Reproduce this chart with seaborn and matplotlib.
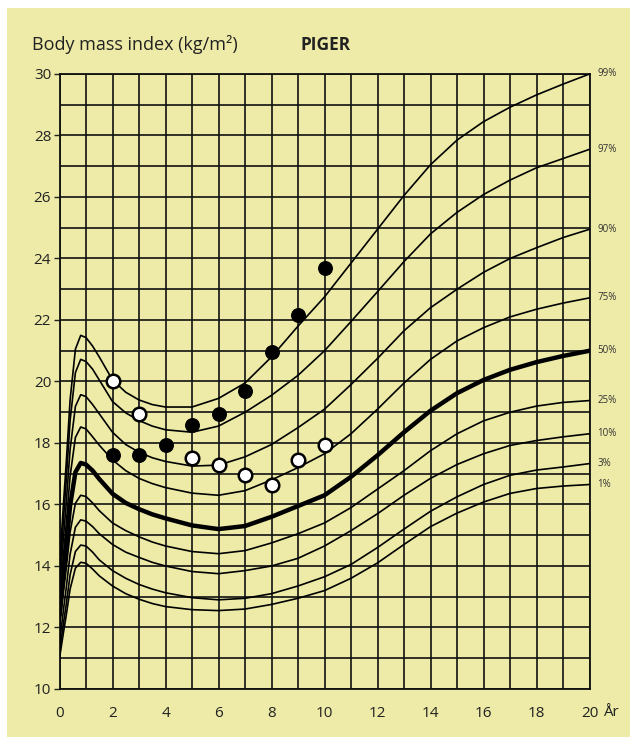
import numpy as np
import pandas as pd
import matplotlib
matplotlib.use('Agg')
import matplotlib.pyplot as plt
from matplotlib.patches import Rectangle
import seaborn as sns

sns.set_style('white')
plt.rcParams['font.family'] = ['Open Sans', 'DejaVu Sans']

ages = [0, 0.05, 0.15, 0.25, 0.4, 0.6, 0.8, 1.0, 1.25, 1.5, 2, 2.5, 3, 3.5, 4, 5, 6,
        7, 8, 9, 10, 11, 12, 13, 14, 15, 16, 17, 18, 19, 20]

p99 = [14.0, 14.68, 16.03, 17.3, 19.4, 21.05, 21.5, 21.43, 21.15, 20.8, 20.05, 19.65, 19.4,
       19.25, 19.17, 19.17, 19.45,
       19.95, 20.8, 21.8, 22.75, 23.85, 24.95, 26.05, 27.05, 27.85, 28.45, 28.92, 29.32, 29.67, 30.0]
p97 = [13.6, 14.24, 15.52, 16.73, 18.73, 20.29, 20.72, 20.65, 20.4, 20.05, 19.35, 18.98, 18.73,
       18.55, 18.43, 18.35, 18.55,
       19.0, 19.55, 20.2, 21.0, 21.95, 22.92, 23.9, 24.8, 25.5, 26.08, 26.55, 26.95, 27.25, 27.55]
p90 = [13.2, 13.77, 14.92, 16.0, 17.79, 19.19, 19.57, 19.51, 19.25, 18.95, 18.35, 17.95, 17.7,
       17.52, 17.4, 17.25, 17.28,
       17.55, 17.95, 18.5, 19.1, 19.9, 20.75, 21.65, 22.4, 23.0, 23.55, 24.0, 24.35, 24.68, 24.95]
p75 = [12.8, 13.31, 14.34, 15.32, 16.92, 18.18, 18.52, 18.46, 18.2, 17.93, 17.45, 17.1, 16.85,
       16.68, 16.55, 16.37, 16.3,
       16.45, 16.8, 17.2, 17.65, 18.3, 19.1, 19.95, 20.72, 21.32, 21.75, 22.1, 22.35, 22.55, 22.72]
p50 = [12.4, 12.85, 13.74, 14.58, 15.96, 17.05, 17.35, 17.3, 17.1, 16.83, 16.35, 16.05, 15.85,
       15.68, 15.55, 15.32, 15.2,
       15.3, 15.6, 15.95, 16.3, 16.9, 17.6, 18.35, 19.05, 19.62, 20.05, 20.38, 20.63, 20.83, 21.0]
p25 = [12.0, 12.39, 13.16, 13.89, 15.1, 16.04, 16.3, 16.26, 16.05, 15.8, 15.4, 15.15, 14.95,
       14.78, 14.65, 14.47, 14.4,
       14.5, 14.75, 15.05, 15.4, 15.9, 16.5, 17.1, 17.75, 18.3, 18.72, 19.0, 19.2, 19.32, 19.38]
p10 = [11.5, 11.86, 12.58, 13.26, 14.38, 15.26, 15.5, 15.46, 15.28, 15.05, 14.7, 14.45, 14.28,
       14.12, 14.0, 13.82, 13.75,
       13.85, 14.0, 14.25, 14.65, 15.15, 15.7, 16.3, 16.85, 17.3, 17.65, 17.92, 18.08, 18.2, 18.3]
p3 = [11.2, 11.51, 12.14, 12.73, 13.71, 14.47, 14.68, 14.65, 14.45, 14.2, 13.85, 13.6, 13.4,
      13.25, 13.13, 12.97, 12.9,
      12.95, 13.1, 13.35, 13.65, 14.05, 14.6, 15.2, 15.78, 16.25, 16.65, 16.95, 17.12, 17.22, 17.33]
p1 = [11.0, 11.28, 11.84, 12.37, 13.25, 13.93, 14.12, 14.09, 13.9, 13.68, 13.35, 13.1, 12.92,
      12.78, 12.68, 12.58, 12.55,
      12.6, 12.75, 12.95, 13.2, 13.6, 14.1, 14.7, 15.28, 15.72, 16.08, 16.36, 16.52, 16.6, 16.65]

pct_labels = ['99%', '97%', '90%', '75%', '50%', '25%', '10%', '3%', '1%']
curves = [p99, p97, p90, p75, p50, p25, p10, p3, p1]

# the child's measurements
dot_ages = [2, 3, 4, 5, 6, 7, 8, 9, 10]
black_bmi = [17.6, 17.6, 17.95, 18.6, 18.95, 19.7, 20.95, 22.15, 23.7]
white_ages = [2, 3, 5, 6, 7, 8, 9, 10]
white_bmi = [20.0, 18.95, 17.5, 17.3, 16.95, 16.65, 17.45, 17.95]

rows = []
for lab, vals in zip(pct_labels, curves):
    for a, v in zip(ages, vals):
        rows.append((a, v, lab))
df = pd.DataFrame(rows, columns=['age', 'bmi', 'pct'])

W, H = 630, 744
fig = plt.figure(figsize=(W / 100, H / 100), dpi=100)
fig.patch.set_facecolor('white')
fig.patches.append(Rectangle((7 / W, 1 - 737 / H), 1 - 7 / W, (737 - 8) / H,
                             transform=fig.transFigure, facecolor='#EDEBA7',
                             edgecolor='none', zorder=-5))

ax = fig.add_axes([59.5 / W, 1 - 689 / H, 530 / W, 615 / H])
ax.set_zorder(1)
ax.set_facecolor('#EDEBA7')

for lab in pct_labels:
    sub = df[df['pct'] == lab]
    sns.lineplot(data=sub, x='age', y='bmi', ax=ax, color='black',
                 lw=3.2 if lab == '50%' else 1.2, estimator=None, zorder=3,
                 solid_joinstyle='round')

sns.scatterplot(x=dot_ages, y=black_bmi, ax=ax, color='black', s=95,
                edgecolor='black', linewidth=1, zorder=5)
sns.scatterplot(x=white_ages, y=white_bmi, ax=ax, color='white', s=95,
                edgecolor='black', linewidth=1.8, zorder=5)

ax.set_xlim(0, 20)
ax.set_ylim(10, 30)
ax.set_xticks(range(0, 21, 2))
ax.set_xticks(range(0, 21), minor=True)
ax.set_yticks(range(10, 31, 2))
ax.set_yticks(range(10, 31), minor=True)
ax.grid(which='both', color='#111111', lw=1.2)
ax.set_axisbelow(True)
for sp in ax.spines.values():
    sp.set_color('#111111')
    sp.set_linewidth(1.3)
ax.tick_params(axis='x', which='both', length=0, pad=12, labelsize=11, colors='#222222')
ax.tick_params(axis='y', which='major', length=4, width=1, pad=2, labelsize=11,
               colors='#222222', left=True)
ax.tick_params(axis='y', which='minor', length=0)
ax.set_xlabel('')
ax.set_ylabel('')

for lab, vals in zip(pct_labels, curves):
    ax.text(20.3, vals[-1], lab, fontsize=7, va='center', ha='left', color='#333333',
            clip_on=False)

fig.text(32 / W, 1 - 45 / H, 'Body mass index (kg/m²)', fontsize=13, va='center',
         color='#222222')
fig.text(300 / W, 1 - 45 / H, 'PIGER', fontsize=12.5, va='center', weight='bold',
         color='#222222')
fig.text(603 / W, 1 - 713 / H, 'År', fontsize=11, va='center', color='#222222')

fig.savefig('out.png', dpi=100, facecolor='white')
